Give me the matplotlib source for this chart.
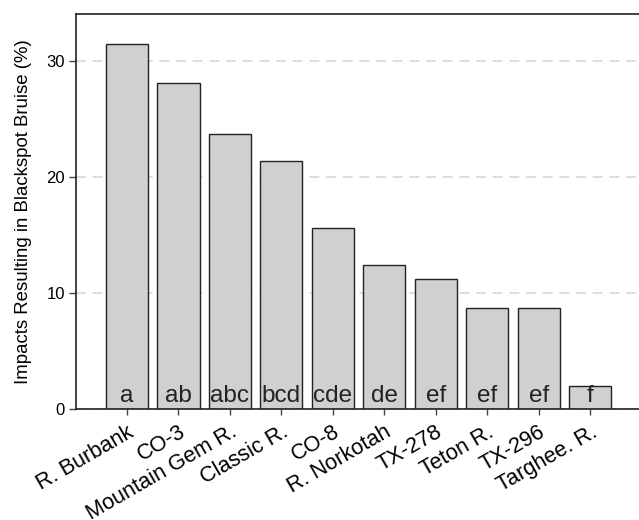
import matplotlib
matplotlib.use("Agg")
import matplotlib.pyplot as plt

plt.rcParams['font.family'] = ['Liberation Sans', 'DejaVu Sans']

cultivars = ["R. Burbank", "CO-3", "Mountain Gem R.", "Classic R.", "CO-8",
             "R. Norkotah", "TX-278", "Teton R.", "TX-296", "Targhee. R."]
values = [31.5, 28.1, 23.7, 21.4, 15.6, 12.45, 11.2, 8.7, 8.7, 2.0]
groups = ["a", "ab", "abc", "bcd", "cde", "de", "ef", "ef", "ef", "f"]
yticks = [0, 10, 20, 30]

fig = plt.figure(figsize=(6.39, 5.20), dpi=100)
ax = fig.add_axes([0.119, 0.2135, 0.881, 0.7595])

x = list(range(len(cultivars)))
ax.bar(x, values, width=0.82, color="#d0d0d0", edgecolor="#222222", linewidth=1.0, zorder=2)

for xi, g in zip(x, groups):
    ax.text(xi, 0.6, g, ha="center", va="baseline", fontsize=17.5, color="#222222", zorder=3)

ax.set_xlim(-0.99, 9.95)
ax.set_ylim(0, 34.05)
ax.set_yticks(yticks)
ax.set_yticklabels([str(t) for t in yticks], fontsize=12)
ax.yaxis.grid(True, linestyle=(0, (6, 4)), color="#d8d8d8", linewidth=1.2, zorder=0)
ax.set_axisbelow(True)

ax.set_xticks(x)
ax.set_xticklabels(cultivars, rotation=30, ha="right", rotation_mode="anchor", fontsize=15.7)
ax.tick_params(axis="x", length=4, width=1, color="#444444", pad=5)
ax.tick_params(axis="y", length=5, width=1, color="#444444", pad=3)

ax.spines["right"].set_visible(False)
for s in ["left", "top", "bottom"]:
    ax.spines[s].set_linewidth(1.2)
    ax.spines[s].set_color("#222222")

ax.set_ylabel("Impacts Resulting in Blackspot Bruise (%)", fontsize=13.4, labelpad=10)

fig.savefig("out.png", dpi=100)
